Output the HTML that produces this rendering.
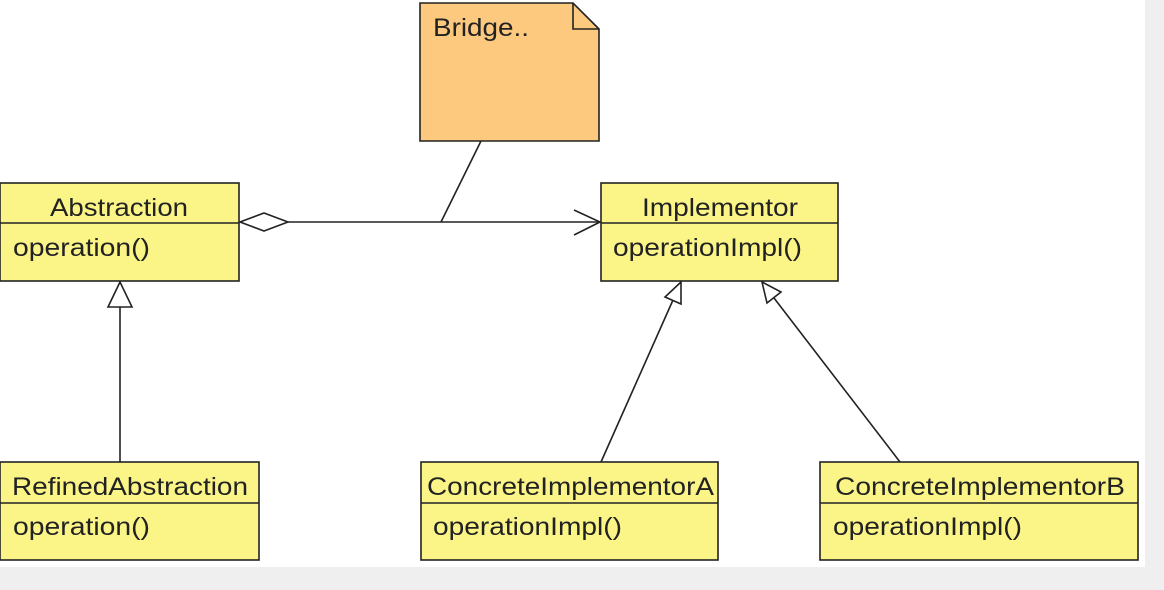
<!DOCTYPE html>
<html><head><meta charset="utf-8"><style>
html,body{margin:0;padding:0;background:#efefef;}
svg{display:block}
text{font-family:"Liberation Sans",Arial,sans-serif;font-size:25px;fill:#222}
</style></head><body>
<svg width="1164" height="590" viewBox="0 0 1164 590" xmlns="http://www.w3.org/2000/svg">
<rect x="0" y="0" width="1145" height="567" fill="#fff"/>
<g stroke="#222" stroke-width="1.6" fill="none">
<path d="M420,3 H573 L599,29 V141 H420 Z" fill="#fcc97f"/>
<path d="M573,3 V29 H599"/>
<line x1="481" y1="141" x2="441" y2="222"/>
<polygon points="240,222 264,213 288,222 264,231" fill="#fff"/>
<line x1="288" y1="222" x2="600" y2="222"/>
<polyline points="574,210 600,222 574,235"/>
<line x1="120" y1="462" x2="120" y2="307"/>
<polygon points="120,282 108,307 132,307" fill="#fff"/>
<line x1="601" y1="462" x2="673" y2="300"/>
<polygon points="681,282 681,304 665,297" fill="#fff"/>
<line x1="900" y1="462" x2="774" y2="298"/>
<polygon points="762,282 781,292 767,303" fill="#fff"/>
<rect x="0" y="183" width="239" height="98" fill="#fbf588"/>
<line x1="0" y1="223" x2="239" y2="223"/>
<rect x="601" y="183" width="237" height="98" fill="#fbf588"/>
<line x1="601" y1="223" x2="838" y2="223"/>
<rect x="0" y="462" width="259" height="98" fill="#fbf588"/>
<line x1="0" y1="503" x2="259" y2="503"/>
<rect x="421" y="462" width="297" height="98" fill="#fbf588"/>
<line x1="421" y1="503" x2="718" y2="503"/>
<rect x="820" y="462" width="318" height="98" fill="#fbf588"/>
<line x1="820" y1="503" x2="1138" y2="503"/>
</g>
<text x="433" y="36" textLength="96" lengthAdjust="spacingAndGlyphs">Bridge..</text>
<text x="50" y="216" textLength="138" lengthAdjust="spacingAndGlyphs">Abstraction</text>
<text x="13" y="256" textLength="137" lengthAdjust="spacingAndGlyphs">operation()</text>
<text x="642" y="216" textLength="156" lengthAdjust="spacingAndGlyphs">Implementor</text>
<text x="613" y="256" textLength="189" lengthAdjust="spacingAndGlyphs">operationImpl()</text>
<text x="12" y="495" textLength="236" lengthAdjust="spacingAndGlyphs">RefinedAbstraction</text>
<text x="13" y="535" textLength="137" lengthAdjust="spacingAndGlyphs">operation()</text>
<text x="427" y="495" textLength="287" lengthAdjust="spacingAndGlyphs">ConcreteImplementorA</text>
<text x="433" y="535" textLength="189" lengthAdjust="spacingAndGlyphs">operationImpl()</text>
<text x="835" y="495" textLength="290" lengthAdjust="spacingAndGlyphs">ConcreteImplementorB</text>
<text x="833" y="535" textLength="189" lengthAdjust="spacingAndGlyphs">operationImpl()</text>
</svg>
</body></html>
